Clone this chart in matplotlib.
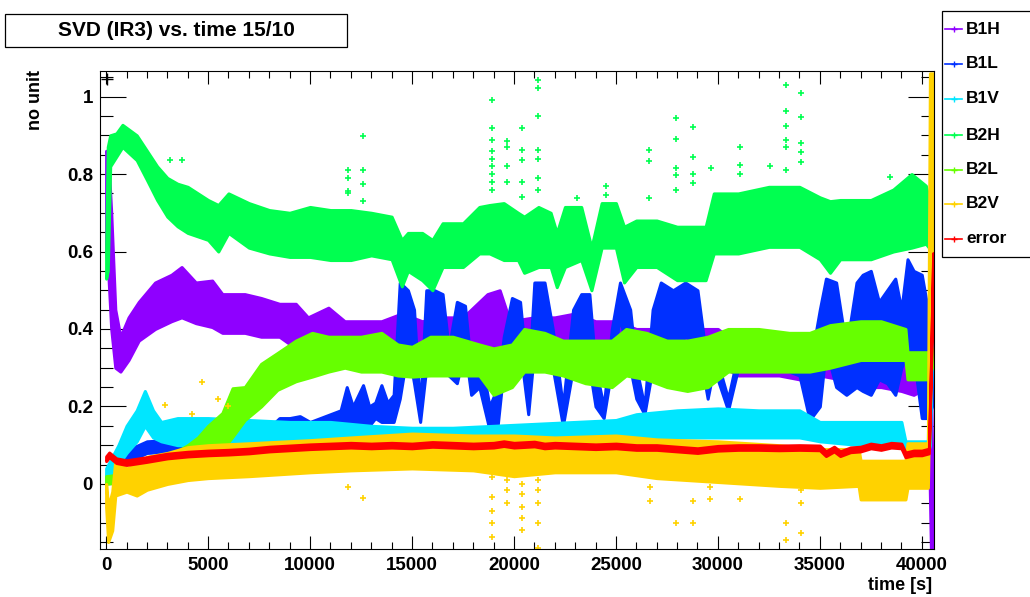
import matplotlib
matplotlib.use("Agg")
import matplotlib.pyplot as plt
from matplotlib.lines import Line2D
from matplotlib.patches import Rectangle
from matplotlib.ticker import MultipleLocator, FuncFormatter

plt.rcParams['font.family'] = ['Liberation Sans', 'DejaVu Sans']
plt.rcParams['font.weight'] = 'bold'

# ---- data: time [s] and lower/upper envelope of each signal ----
b1h_t = [0, 100, 250, 450, 700, 1100, 1600, 2400, 3200, 3700, 4400, 5200, 5700, 6800, 7600,
         8500, 9300, 9900, 10900, 11700, 12500, 13500, 14500, 15500, 16500, 17500, 18700,
         19300, 19800, 21000, 22000, 23000, 24000, 25000, 26000, 27000, 28000, 29000, 30000,
         31000, 32000, 33000, 34000, 35000, 36000, 37000, 38000, 39000, 39600, 40300, 40450, 40550]
b1h_lo = [0.60, 0.55, 0.40, 0.30, 0.29, 0.32, 0.37, 0.40, 0.42, 0.43, 0.415, 0.405, 0.39, 0.39, 0.38,
          0.38, 0.35, 0.355, 0.355, 0.35, 0.34, 0.34, 0.33, 0.33, 0.33, 0.33, 0.33,
          0.32, 0.33, 0.33, 0.33, 0.33, 0.32, 0.32, 0.29, 0.30, 0.30, 0.31, 0.31,
          0.28, 0.28, 0.28, 0.27, 0.28, 0.27, 0.25, 0.25, 0.24, 0.23, 0.25, -0.17, -0.17]
b1h_hi = [0.86, 0.85, 0.70, 0.45, 0.38, 0.43, 0.47, 0.52, 0.54, 0.56, 0.52, 0.525, 0.49, 0.49, 0.48,
          0.465, 0.465, 0.43, 0.455, 0.42, 0.42, 0.42, 0.44, 0.42, 0.43, 0.43, 0.49,
          0.50, 0.42, 0.43, 0.43, 0.44, 0.42, 0.42, 0.40, 0.40, 0.40, 0.40, 0.40,
          0.36, 0.35, 0.36, 0.35, 0.37, 0.36, 0.35, 0.34, 0.34, 0.30, 0.32, 0.30, -0.10]

b1l_t = [0, 300, 2000, 5000, 7500, 8500, 9000, 9500, 10000, 10500, 11000, 11500, 11800, 12100,
         12600, 12900, 13200, 13500, 13800, 14100, 14400, 14800, 15100, 15400, 15700, 16100,
         16500, 16800, 17200, 17600, 17900, 18300, 18800, 19200, 19500, 19900, 20300, 20700,
         21000, 21500, 21900, 22400, 22900, 23300, 23700, 24000, 24400, 24800, 25200, 25700,
         26000, 26400, 26800, 27200, 27800, 28400, 29000, 29500, 29800, 30500, 31000, 32000,
         33000, 34000, 34500, 35000, 35300, 35800, 36300, 36800, 37100, 37500, 37900, 38300,
         38700, 39000, 39300, 39600, 40000, 40300, 40500]
b1l_lo = [0.0, 0.04, 0.08, 0.09, 0.09, 0.13, 0.12, 0.14, 0.13, 0.14, 0.145, 0.15, 0.15, 0.15,
          0.15, 0.15, 0.17, 0.16, 0.16, 0.16, 0.22, 0.35, 0.26, 0.16, 0.30, 0.38,
          0.35, 0.28, 0.26, 0.35, 0.23, 0.25, 0.14, 0.15, 0.30, 0.35, 0.35, 0.18,
          0.35, 0.35, 0.30, 0.15, 0.30, 0.35, 0.30, 0.20, 0.17, 0.30, 0.43, 0.30,
          0.22, 0.18, 0.30, 0.37, 0.35, 0.38, 0.37, 0.22, 0.30, 0.19, 0.30, 0.30,
          0.30, 0.28, 0.165, 0.20, 0.35, 0.25, 0.23, 0.25, 0.24, 0.23, 0.27, 0.26,
          0.23, 0.30, 0.34, 0.33, 0.17, 0.17, 0.20]
b1l_hi = [0.02, 0.07, 0.11, 0.12, 0.12, 0.17, 0.17, 0.175, 0.16, 0.17, 0.18, 0.19, 0.25, 0.20,
          0.255, 0.20, 0.21, 0.255, 0.21, 0.23, 0.52, 0.50, 0.45, 0.19, 0.50, 0.50,
          0.49, 0.35, 0.47, 0.46, 0.30, 0.35, 0.20, 0.25, 0.38, 0.48, 0.47, 0.25,
          0.52, 0.52, 0.40, 0.20, 0.45, 0.49, 0.49, 0.30, 0.20, 0.40, 0.52, 0.45,
          0.30, 0.20, 0.45, 0.52, 0.50, 0.52, 0.50, 0.30, 0.35, 0.22, 0.34, 0.35,
          0.34, 0.35, 0.30, 0.45, 0.53, 0.52, 0.35, 0.52, 0.54, 0.55, 0.47, 0.50,
          0.53, 0.45, 0.58, 0.55, 0.54, 0.45, 0.50]

b1v_t = [0, 300, 600, 1000, 1500, 1900, 2300, 2700, 3500, 5000, 7000, 9000, 11000, 13000, 15000,
         17000, 19000, 21000, 23000, 25000, 26000, 28000, 30000, 32000, 34000, 35000, 37000,
         39000, 39200, 40300, 40400, 40550]
b1v_lo = [0.0, 0.03, 0.05, 0.08, 0.11, 0.15, 0.12, 0.11, 0.10, 0.10, 0.10, 0.10, 0.10, 0.10, 0.10,
          0.10, 0.10, 0.10, 0.10, 0.11, 0.12, 0.12, 0.12, 0.12, 0.12, 0.11, 0.10,
          0.10, 0.08, 0.08, 0.10, 0.44]
b1v_hi = [0.04, 0.07, 0.10, 0.15, 0.19, 0.24, 0.19, 0.16, 0.17, 0.17, 0.165, 0.16, 0.16, 0.15, 0.145,
          0.145, 0.15, 0.155, 0.16, 0.165, 0.18, 0.19, 0.195, 0.19, 0.19, 0.16, 0.16,
          0.16, 0.11, 0.11, 0.50, 0.58]

b2h_t = [0, 80, 200, 500, 800, 1500, 2000, 2500, 3000, 3500, 4000, 5000, 5500, 6000, 7000, 8000,
         9000, 10000, 11000, 12000, 13000, 14000, 14500, 14800, 15500, 16000, 16500, 17500,
         18300, 18800, 19500, 20200, 20500, 21200, 21800, 22100, 22500, 23300, 23800, 24300,
         25000, 25400, 26000, 27000, 28000, 29400, 29800, 31000, 32500, 34000, 35000, 35500,
         36000, 37500, 38600, 39500, 40200, 40500]
b2h_lo = [0.53, 0.55, 0.82, 0.845, 0.87, 0.836, 0.785, 0.733, 0.69, 0.665, 0.648, 0.63, 0.60, 0.648,
          0.61, 0.595, 0.586, 0.586, 0.578, 0.578, 0.59, 0.58, 0.51, 0.55, 0.526, 0.50, 0.56, 0.56,
          0.595, 0.595, 0.578, 0.578, 0.545, 0.56, 0.56, 0.508, 0.56, 0.578, 0.50, 0.61,
          0.61, 0.52, 0.56, 0.56, 0.526, 0.526, 0.595, 0.595, 0.612, 0.612, 0.58, 0.545,
          0.58, 0.58, 0.60, 0.61, 0.62, 0.60]
b2h_hi = [0.60, 0.87, 0.90, 0.905, 0.927, 0.90, 0.86, 0.82, 0.79, 0.775, 0.767, 0.733, 0.72, 0.75,
          0.725, 0.707, 0.70, 0.715, 0.707, 0.707, 0.70, 0.69, 0.63, 0.648, 0.648, 0.63, 0.673, 0.673,
          0.715, 0.72, 0.725, 0.70, 0.69, 0.715, 0.70, 0.648, 0.715, 0.715, 0.61, 0.725,
          0.725, 0.664, 0.68, 0.68, 0.664, 0.664, 0.75, 0.75, 0.767, 0.767, 0.74, 0.73,
          0.733, 0.733, 0.76, 0.80, 0.77, 0.70]

b2l_t = [0, 1500, 3000, 4000, 4500, 5000, 5700, 6200, 6800, 7600, 8400, 9300, 10100, 10900,
         11700, 12500, 13500, 14300, 15000, 15900, 17000, 18300, 19000, 19900, 20500, 21500,
         22400, 23500, 24800, 25500, 26500, 27500, 28500, 29500, 30500, 32000, 33500, 34500,
         35500, 37000, 38000, 39200, 39300, 40300, 40500]
b2l_lo = [0.0, 0.01, 0.04, 0.07, 0.09, 0.10, 0.088, 0.122, 0.165, 0.20, 0.243, 0.265, 0.277, 0.29,
          0.30, 0.29, 0.29, 0.28, 0.277, 0.28, 0.28, 0.28, 0.23, 0.25, 0.29, 0.29,
          0.28, 0.26, 0.25, 0.28, 0.27, 0.25, 0.24, 0.25, 0.29, 0.29, 0.29, 0.29,
          0.30, 0.32, 0.32, 0.32, 0.27, 0.27, 0.30]
b2l_hi = [0.02, 0.03, 0.07, 0.10, 0.12, 0.15, 0.183, 0.247, 0.25, 0.31, 0.338, 0.37, 0.39, 0.38,
          0.38, 0.38, 0.39, 0.36, 0.354, 0.38, 0.38, 0.36, 0.35, 0.36, 0.40, 0.39,
          0.37, 0.37, 0.37, 0.40, 0.39, 0.37, 0.37, 0.38, 0.40, 0.40, 0.39, 0.39,
          0.41, 0.42, 0.42, 0.40, 0.34, 0.34, 0.35]

b2v_t = [0, 100, 300, 450, 1000, 1500, 2000, 3000, 4000, 5000, 7000, 10000, 12000, 15000, 18000,
         20000, 22000, 25000, 27000, 30000, 33000, 35000, 36900, 37000, 39200, 39300, 40300,
         40400, 40550]
b2v_lo = [-0.06, -0.15, -0.12, -0.03, -0.02, -0.03, -0.015, 0.0, 0.01, 0.015, 0.02, 0.03, 0.035,
          0.04, 0.035, 0.02, 0.03, 0.03, 0.015, 0.005, -0.005, -0.01, -0.005, -0.04, -0.04, -0.01,
          -0.01, 0.30, 0.60]
b2v_hi = [0.0, -0.06, -0.02, 0.06, 0.04, 0.05, 0.07, 0.08, 0.095, 0.10, 0.105, 0.113, 0.12, 0.13,
          0.125, 0.125, 0.12, 0.125, 0.115, 0.11, 0.10, 0.09, 0.09, 0.06, 0.06, 0.105, 0.105,
          1.06, 1.06]

err_t = [0, 150, 500, 1000, 2000, 3000, 4000, 5000, 6000, 7000, 8000, 9000, 10000, 11000, 12000,
         13000, 14000, 15000, 16000, 17000, 18000, 19000, 19500, 20000, 21000, 21500, 22000,
         23000, 24000, 25000, 26000, 27000, 28000, 29000, 30000, 31000, 32000, 33000, 34000,
         35000, 35300, 35700, 36000, 36500, 37000, 37500, 38000, 38500, 39000, 39200, 39600,
         40000, 40350, 40450, 40560]
err_v = [0.065, 0.075, 0.06, 0.055, 0.063, 0.072, 0.077, 0.08, 0.082, 0.085, 0.09, 0.093, 0.096,
         0.098, 0.10, 0.098, 0.10, 0.098, 0.102, 0.10, 0.098, 0.10, 0.104, 0.10, 0.103, 0.098,
         0.10, 0.098, 0.096, 0.098, 0.094, 0.094, 0.09, 0.086, 0.092, 0.094, 0.094, 0.093, 0.094,
         0.093, 0.078, 0.09, 0.078, 0.088, 0.09, 0.098, 0.094, 0.10, 0.098, 0.075, 0.08,
         0.08, 0.085, 0.30, 0.59]

# isolated spikes
b2h_out_t = [3140, 3730, 11880, 11880, 11880, 11880, 12620, 12620, 12620, 12620,
             18900, 18900, 18900, 18900, 18900, 18900, 18900, 18900, 18900,
             19640, 19640, 19640, 19640, 20380, 20380, 20380, 20380, 20380,
             21160, 21160, 21160, 21160, 21160, 21160, 21200, 23100, 24510, 24510,
             26620, 26620, 26620, 27970, 27970, 27970, 27970, 27970,
             28760, 28760, 28760, 28760, 29640, 31110, 31110, 31110, 32550,
             33330, 33330, 33330, 33330, 33330, 33330, 34100, 34100, 34100, 34100, 34100, 38430]
b2h_out_v = [0.836, 0.837, 0.81, 0.79, 0.755, 0.75, 0.898, 0.81, 0.774, 0.73,
             0.99, 0.92, 0.888, 0.86, 0.84, 0.82, 0.80, 0.78, 0.76,
             0.885, 0.87, 0.82, 0.78, 0.92, 0.863, 0.836, 0.78, 0.74,
             1.044, 1.022, 0.95, 0.863, 0.84, 0.79, 0.76, 0.737, 0.77, 0.745,
             0.863, 0.834, 0.737, 0.944, 0.89, 0.815, 0.797, 0.758,
             0.922, 0.845, 0.80, 0.776, 0.816, 0.87, 0.823, 0.80, 0.822,
             1.029, 0.963, 0.924, 0.888, 0.87, 0.81, 1.008, 0.948, 0.879, 0.857, 0.83, 0.793]

b2v_out_t = [2890, 4200, 4700, 5500, 6000, 11880, 12620,
             18900, 18900, 18900, 18900, 18900, 19640, 19640, 19640,
             20380, 20380, 20380, 20380, 20380, 21190, 21190, 21190, 21190, 21190,
             26670, 26670, 26670, 27970, 28760, 28760, 29600, 29600, 29600, 31080,
             33330, 33330, 34100, 34100, 34100]
b2v_out_v = [0.204, 0.18, 0.263, 0.22, 0.20, -0.007, -0.037,
             0.019, -0.033, -0.071, -0.101, -0.136, 0.01, -0.015, -0.05,
             0.0, -0.025, -0.06, -0.088, -0.118, 0.01, -0.015, -0.05, -0.10, -0.166,
             0.02, -0.007, -0.045, -0.10, -0.045, -0.10, 0.037, -0.007, -0.04, -0.04,
             -0.10, -0.144, -0.015, -0.05, -0.127]

mark_t = [50]
mark_v = [1.045]

names = ['B1H', 'B1L', 'B1V', 'B2H', 'B2L', 'B2V', 'error']
colors = ['#8f00ff', '#0030ff', '#00e6ff', '#00ff50', '#66ff00', '#ffd200', '#ff0000']

W, H = 1030, 597
fig = plt.figure(figsize=(W / 100, H / 100), dpi=100)
ax = fig.add_axes([100 / W, 1 - 549 / H, 834 / W, 478 / H])

bands = [
    (b1h_t, b1h_lo, b1h_hi),
    (b1l_t, b1l_lo, b1l_hi),
    (b1v_t, b1v_lo, b1v_hi),
    (b2h_t, b2h_lo, b2h_hi),
    (b2l_t, b2l_lo, b2l_hi),
    (b2v_t, b2v_lo, b2v_hi),
    (err_t, [v - 0.006 for v in err_v], [v + 0.006 for v in err_v]),
]
for i, (t, lo, hi) in enumerate(bands):
    # thick edge so the band outline looks like the marker cloud
    ax.fill_between(t, lo, hi, color=colors[i], lw=2.2, edgecolor=colors[i], zorder=2 + i)
    if names[i] == 'B2H':
        ax.plot(b2h_out_t, b2h_out_v, ls='none', marker='+', ms=4, mew=1.2,
                color=colors[i], zorder=2 + i)
    if names[i] == 'B2V':
        ax.plot(b2v_out_t, b2v_out_v, ls='none', marker='+', ms=4, mew=1.2,
                color=colors[i], zorder=2 + i)

ax.plot(mark_t, mark_v, ls='none', marker='+', ms=9, mew=1, color='black', zorder=12)

ax.set_xlim(-300, 40600)
ax.set_ylim(-0.168, 1.066)

ax.xaxis.set_major_locator(MultipleLocator(5000))
ax.xaxis.set_minor_locator(MultipleLocator(1000))
ax.yaxis.set_major_locator(MultipleLocator(0.2))
ax.yaxis.set_minor_locator(MultipleLocator(0.05))
fmt = FuncFormatter(lambda v, p: '%g' % round(v, 6))
ax.xaxis.set_major_formatter(fmt)
ax.yaxis.set_major_formatter(fmt)

ax.tick_params(which='both', direction='in', top=True, right=True, width=0.8, colors='black',
               labelsize=13.5)
ax.tick_params(axis='x', which='major', length=9.6, pad=6)
ax.tick_params(axis='x', which='minor', length=4.8)
ax.tick_params(axis='y', which='major', length=18.7, pad=5)
ax.tick_params(axis='y', which='minor', length=9.4)
for lab in ax.get_xticklabels() + ax.get_yticklabels():
    lab.set_fontweight('bold')
for s in ax.spines.values():
    s.set_linewidth(0.8)
    s.set_zorder(20)

fig.text(35 / W, 1 - 70 / H, 'no unit', rotation=90, ha='center', va='top',
         fontsize=13, fontweight='bold')
fig.text(932 / W, 1 - 586 / H, 'time [s]', ha='right', va='center',
         fontsize=13, fontweight='bold')

# title box
fig.add_artist(Rectangle((5 / W, 1 - 47 / H), 342 / W, 33 / H, transform=fig.transFigure,
                         facecolor='white', edgecolor='black', lw=0.9))
fig.text(176 / W, 1 - 31 / H, 'SVD (IR3) vs. time 15/10', ha='center', va='center',
         fontsize=15, fontweight='bold')

# legend
fig.add_artist(Rectangle((942 / W, 1 - 257 / H), 100 / W, 246 / H, transform=fig.transFigure,
                         facecolor='white', edgecolor='black', lw=0.9))
entry_y = [29, 64, 99, 135, 170, 204, 239]
for name, c, y in zip(names, colors, entry_y):
    yy = 1 - y / H
    fig.add_artist(Line2D([945 / W, 962 / W], [yy, yy], transform=fig.transFigure,
                          color=c, lw=1.2))
    fig.add_artist(Line2D([953.5 / W], [yy], transform=fig.transFigure, color=c,
                          marker='+', ms=4, mew=1))
    fig.text(966 / W, yy, name, ha='left', va='center', fontsize=12.5, fontweight='bold')

fig.savefig('out.png', dpi=100)
